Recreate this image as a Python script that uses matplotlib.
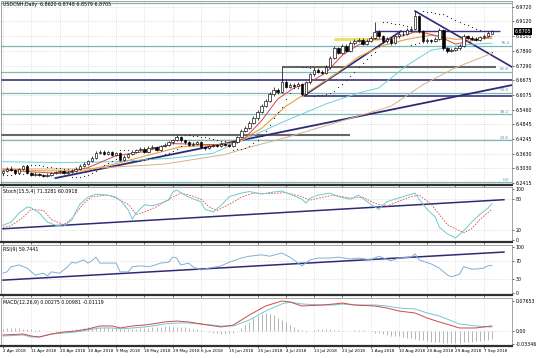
import numpy as np
import matplotlib
matplotlib.use("Agg")
import matplotlib.pyplot as plt
import matplotlib.transforms as mtransforms

# USDCNH daily candles, 2 Apr 2018 .. 11 Sep 2018 (bar index = trading day)
opens = [6.282, 6.290, 6.300, 6.295, 6.285, 6.300, 6.312, 6.282, 6.276, 6.280,
         6.274, 6.270, 6.276, 6.282, 6.287, 6.292, 6.281, 6.287, 6.293, 6.301,
         6.314, 6.322, 6.332, 6.345, 6.368, 6.372, 6.362, 6.370, 6.358, 6.366,
         6.338, 6.350, 6.362, 6.372, 6.378, 6.384, 6.372, 6.388, 6.392, 6.380,
         6.396, 6.401, 6.410, 6.420, 6.432, 6.418, 6.410, 6.400, 6.404, 6.410,
         6.392, 6.385, 6.394, 6.400, 6.395, 6.405, 6.400, 6.396, 6.410, 6.432,
         6.458, 6.470, 6.492, 6.510, 6.538, 6.560, 6.582, 6.610, 6.628, 6.620,
         6.662, 6.642, 6.650, 6.645, 6.652, 6.612, 6.660, 6.692, 6.712, 6.704,
         6.700, 6.722, 6.762, 6.800, 6.782, 6.812, 6.790, 6.822, 6.830, 6.836,
         6.820, 6.830, 6.842, 6.870, 6.850, 6.830, 6.840, 6.822, 6.850, 6.862,
         6.860, 6.875, 6.882, 6.935, 6.872, 6.830, 6.835, 6.830, 6.840, 6.876,
         6.800, 6.790, 6.795, 6.800, 6.812, 6.850, 6.845, 6.840, 6.836, 6.846,
         6.852, 6.862]
highs = [6.296, 6.306, 6.310, 6.299, 6.305, 6.318, 6.316, 6.287, 6.286, 6.284,
         6.279, 6.281, 6.287, 6.292, 6.297, 6.296, 6.292, 6.299, 6.306, 6.319,
         6.328, 6.338, 6.352, 6.375, 6.380, 6.378, 6.376, 6.374, 6.372, 6.370,
         6.356, 6.367, 6.378, 6.384, 6.390, 6.389, 6.394, 6.398, 6.396, 6.401,
         6.407, 6.416, 6.426, 6.440, 6.436, 6.422, 6.414, 6.410, 6.416, 6.414,
         6.397, 6.399, 6.405, 6.404, 6.410, 6.409, 6.404, 6.416, 6.438, 6.465,
         6.478, 6.500, 6.518, 6.546, 6.568, 6.592, 6.620, 6.640, 6.636, 6.725,
         6.670, 6.657, 6.656, 6.660, 6.656, 6.666, 6.700, 6.722, 6.718, 6.712,
         6.730, 6.770, 6.812, 6.808, 6.820, 6.818, 6.830, 6.838, 6.845, 6.842,
         6.838, 6.850, 6.910, 6.878, 6.856, 6.848, 6.846, 6.856, 6.870, 6.872,
         6.884, 6.892, 6.955, 6.940, 6.878, 6.842, 6.840, 6.846, 6.884, 6.882,
         6.806, 6.802, 6.808, 6.818, 6.858, 6.856, 6.850, 6.846, 6.852, 6.858,
         6.874, 6.8748]
lows = [6.276, 6.286, 6.290, 6.280, 6.281, 6.296, 6.279, 6.270, 6.272, 6.270,
        6.265, 6.266, 6.272, 6.278, 6.283, 6.277, 6.277, 6.283, 6.289, 6.297,
        6.309, 6.317, 6.327, 6.340, 6.360, 6.356, 6.357, 6.352, 6.353, 6.332,
        6.333, 6.345, 6.357, 6.367, 6.373, 6.367, 6.368, 6.383, 6.375, 6.376,
        6.391, 6.396, 6.405, 6.415, 6.412, 6.404, 6.395, 6.395, 6.399, 6.386,
        6.380, 6.381, 6.389, 6.390, 6.391, 6.395, 6.391, 6.392, 6.406, 6.428,
        6.452, 6.465, 6.486, 6.505, 6.532, 6.555, 6.576, 6.602, 6.612, 6.615,
        6.636, 6.636, 6.638, 6.640, 6.604, 6.608, 6.654, 6.686, 6.698, 6.694,
        6.695, 6.716, 6.755, 6.775, 6.776, 6.784, 6.785, 6.815, 6.825, 6.814,
        6.815, 6.825, 6.838, 6.844, 6.824, 6.824, 6.815, 6.818, 6.845, 6.852,
        6.855, 6.868, 6.878, 6.866, 6.822, 6.824, 6.824, 6.826, 6.836, 6.795,
        6.783, 6.785, 6.790, 6.795, 6.808, 6.838, 6.834, 6.830, 6.830, 6.840,
        6.846, 6.8579]
closes = [6.290, 6.300, 6.295, 6.285, 6.300, 6.312, 6.282, 6.276, 6.280, 6.274,
          6.270, 6.276, 6.282, 6.287, 6.292, 6.281, 6.287, 6.293, 6.301, 6.314,
          6.322, 6.332, 6.345, 6.368, 6.372, 6.362, 6.370, 6.358, 6.366, 6.338,
          6.350, 6.362, 6.372, 6.378, 6.384, 6.372, 6.388, 6.392, 6.380, 6.396,
          6.401, 6.410, 6.420, 6.432, 6.418, 6.410, 6.400, 6.404, 6.410, 6.392,
          6.385, 6.394, 6.400, 6.395, 6.405, 6.400, 6.396, 6.410, 6.432, 6.458,
          6.470, 6.492, 6.510, 6.538, 6.560, 6.582, 6.610, 6.628, 6.620, 6.662,
          6.642, 6.650, 6.645, 6.652, 6.612, 6.660, 6.692, 6.712, 6.704, 6.700,
          6.722, 6.762, 6.800, 6.782, 6.812, 6.790, 6.822, 6.830, 6.836, 6.820,
          6.830, 6.842, 6.870, 6.850, 6.830, 6.840, 6.822, 6.850, 6.862, 6.860,
          6.875, 6.882, 6.935, 6.872, 6.830, 6.835, 6.830, 6.840, 6.876, 6.800,
          6.790, 6.795, 6.800, 6.812, 6.850, 6.845, 6.840, 6.836, 6.846, 6.852,
          6.866, 6.8705]

date_labels = ["2 Apr 2018", "11 Apr 2018", "20 Apr 2018", "30 Apr 2018", "9 May 2018",
               "18 May 2018", "29 May 2018", "6 Jun 2018", "15 Jun 2018", "25 Jun 2018",
               "4 Jul 2018", "13 Jul 2018", "23 Jul 2018", "1 Aug 2018", "10 Aug 2018",
               "20 Aug 2018", "29 Aug 2018", "7 Sep 2018"]
price_ticks = [6.9720, 6.9120, 6.8505, 6.7890, 6.7290, 6.6675, 6.6075,
               6.5460, 6.4845, 6.4245, 6.3630, 6.3030, 6.2415]

# moving averages (sparse vertices)
ma_fast_x = [0, 7, 14, 21, 28, 35, 42, 49, 56, 60, 64, 68, 72, 76, 80, 84, 88, 92, 96, 100, 102, 104, 108, 112, 116, 121]
ma_fast = [6.295, 6.288, 6.281, 6.305, 6.355, 6.372, 6.405, 6.402, 6.399, 6.430, 6.500, 6.590, 6.636, 6.660,
           6.700, 6.772, 6.815, 6.838, 6.840, 6.858, 6.868, 6.866, 6.850, 6.818, 6.832, 6.850]
ma_mid_x = [0, 10, 20, 28, 36, 44, 52, 58, 64, 70, 76, 82, 88, 94, 100, 106, 112, 121]
ma_mid = [6.300, 6.292, 6.292, 6.322, 6.357, 6.392, 6.398, 6.410, 6.468, 6.560, 6.625, 6.690, 6.765,
          6.812, 6.838, 6.855, 6.838, 6.842]
ma_cyan_x = [0, 14, 28, 42, 52, 61, 70, 80, 88, 93, 100, 106, 114, 121]
ma_cyan = [6.330, 6.326, 6.330, 6.345, 6.365, 6.432, 6.500, 6.570, 6.615, 6.636, 6.730, 6.793, 6.815, 6.822]
ma_tan_x = [0, 20, 40, 55, 61, 70, 80, 90, 96, 104, 112, 121]
ma_tan = [6.300, 6.300, 6.320, 6.360, 6.390, 6.430, 6.480, 6.530, 6.560, 6.650, 6.720, 6.780]

# Fibonacci retracement (0 -> 100)
fib_low, fib_high = 6.2440, 6.9870
fib_levels = [0.0, 23.6, 38.2, 50.0, 61.8, 76.4, 100.0]

# stochastic (15,5,4)
sto_x = [0, 2, 4, 6, 7, 9, 11, 13, 15, 17, 19, 21, 23, 26, 28, 29, 31, 32, 33, 35, 37, 39, 41, 42, 43, 45,
         46, 49, 50, 52, 54, 56, 59, 61, 64, 66, 69, 71, 74, 75, 76, 78, 81, 83, 86, 88, 91, 93, 95, 97,
         99, 102, 103, 105, 107, 108, 110, 112, 114, 116, 118, 120, 121]
sto_main = [29, 35, 53, 65, 63, 53, 35, 29, 27, 39, 70, 84, 90, 88, 84, 78, 59, 41, 53, 69, 67, 72, 78, 94,
            98, 88, 84, 75, 60, 55, 68, 85, 92, 95, 90, 93, 96, 90, 80, 72, 82, 88, 92, 85, 80, 88, 70, 60,
            75, 80, 85, 92, 80, 60, 45, 25, 12, 4, 18, 35, 50, 62, 71]
sig_x = [0, 2, 5, 7, 10, 12, 15, 17, 20, 22, 26, 28, 31, 33, 36, 38, 41, 44, 47, 49, 51, 53, 56, 59, 62,
         66, 70, 74, 76, 78, 82, 86, 89, 92, 95, 98, 101, 103, 106, 108, 110, 114, 116, 118, 121]
sto_signal = [25, 28, 45, 60, 58, 40, 30, 42, 72, 85, 88, 82, 70, 50, 58, 65, 80, 92, 86, 80, 65, 58, 70,
              84, 92, 91, 93, 85, 78, 82, 88, 82, 84, 72, 66, 76, 85, 88, 70, 50, 30, 14, 22, 40, 60]
sto_trend = ([0, 124], [22, 79])

# RSI(9)
rsi_x = [0, 1, 2, 4, 6, 7, 8, 10, 11, 12, 14, 16, 17, 18, 20, 21, 22, 23, 24, 26, 28, 29, 31, 32, 34, 36,
         37, 39, 41, 42, 43, 44, 46, 47, 49, 51, 54, 56, 59, 61, 64, 66, 69, 71, 74, 76, 78, 81, 83, 86,
         88, 91, 93, 96, 98, 101, 102, 103, 106, 108, 110, 111, 113, 114, 116, 117, 119, 120, 121]
rsi = [43, 46, 57, 61, 54, 46, 39, 43, 37, 46, 43, 57, 67, 65, 72, 65, 70, 78, 65, 65, 65, 46, 46, 57, 59,
       57, 59, 65, 67, 78, 76, 61, 65, 57, 50, 54, 59, 67, 76, 80, 83, 80, 87, 78, 59, 72, 76, 76, 78, 74,
       76, 72, 80, 70, 76, 78, 85, 72, 63, 54, 39, 35, 41, 57, 52, 52, 54, 59, 60]
rsi_trend = ([0, 124], [28, 89])

# MACD(12,26,9)
macd_x = [0, 5, 7, 9, 12, 15, 18, 21, 24, 27, 29, 32, 35, 37, 40, 43, 46, 49, 54, 57, 61, 65, 69, 71, 74,
          79, 82, 84, 87, 92, 95, 98, 102, 105, 108, 113, 117, 121]
macd_main = [-0.0128, -0.0102, -0.0153, -0.0153, -0.0077, -0.0051, -0.0026, 0.0026, 0.0077, 0.0077,
             0.0051, 0.0077, 0.0102, 0.0128, 0.0179, 0.0204, 0.0204, 0.0179, 0.0128, 0.0128, 0.0281,
             0.0510, 0.0689, 0.0740, 0.0689, 0.0663, 0.0663, 0.0689, 0.0663, 0.0663, 0.0638, 0.0587,
             0.0561, 0.0459, 0.0383, 0.0179, 0.0128, 0.0102]
macd_signal = [-0.0102, -0.0077, -0.0128, -0.0153, -0.0077, -0.0026, 0.0000, 0.0051, 0.0128, 0.0128,
               0.0077, 0.0128, 0.0153, 0.0179, 0.0230, 0.0255, 0.0230, 0.0179, 0.0102, 0.0153, 0.0408,
               0.0638, 0.0765, 0.0740, 0.0638, 0.0663, 0.0689, 0.0714, 0.0663, 0.0638, 0.0587, 0.0510,
               0.0459, 0.0330, 0.0230, 0.0077, 0.0077, 0.0128]
macd_hist = [6, 7, 8, 8, 7, 6, 5, 4, 3, 2,
             1, 0, -1, -2, -2, -1, 0,
             2, 4, 6, 8, 9, 10, 10, 9, 9,
             8, 8, 7, 5, 4, 4, 5, 6, 7,
             8, 8, 9, 10, 11, 12, 12, 11, 11,
             10, 9, 8, 6, 4,
             2, 0, -2, -4, -6, -7, -7, -6, -4,
             0, 8, 16, 24, 32, 38, 44, 46,
             44, 40, 34, 28, 22, 16, 10, 6, 2,
             -2, -1, 2, 4, 6, 5, 4, 3, 2, 1, 0, 1, 2, 3, 2, 1, 0,
             -4, -6, -8, -10, -12, -13, -14, -15, -17, -18, -20, -22, -24, -26, -27, -28, -29, -30, -31, -31,
             -30, -30, -29, -28, -27, -26, -25, -24, -22, -20]


def parabolic_sar(high, low, step=0.02, max_step=0.2):
    sar = np.zeros(len(high))
    up = True
    af = step
    ep = high[0]
    sar[0] = low[0]
    for i in range(1, len(high)):
        s = sar[i - 1] + af * (ep - sar[i - 1])
        if up:
            s = min(s, low[i - 1], low[max(i - 2, 0)])
            if low[i] < s:
                up, s, ep, af = False, ep, low[i], step
            elif high[i] > ep:
                ep, af = high[i], min(af + step, max_step)
        else:
            s = max(s, high[i - 1], high[max(i - 2, 0)])
            if high[i] > s:
                up, s, ep, af = True, ep, high[i], step
            elif low[i] < ep:
                ep, af = low[i], min(af + step, max_step)
        sar[i] = s
    return sar


W, H = 536, 358
px = 4.04          # pixels per bar
x0 = 3             # pixel of bar 0
fs = 3.4
grid_kw = dict(color="#c8c8c8", linestyle=(0, (1, 2)), linewidth=0.5)

fig = plt.figure(figsize=(W / 100, H / 100), dpi=100)
fig.patch.set_facecolor("white")


def panel(top, bottom):
    return fig.add_axes([1 / W, 1 - bottom / H, 511 / W, (bottom - top) / H])


def px_to_val(y_pix, y_ref_pix, v_ref, per_px):
    return v_ref - (y_pix - y_ref_pix) * per_px


ax = panel(1, 185)
sto = panel(187, 242)
rsi_ax = panel(245, 295)
mac = panel(298, 346)

xlim = ((1 - x0) / px, (512 - x0) / px)
ticks_x = list(range(0, 7 * len(date_labels), 7))

# y limits from the pixel scales of each panel
pp_main = (6.9720 - 6.2415) / 176.0
ax.set_ylim(px_to_val(185, 7, 6.9720, pp_main), px_to_val(1, 7, 6.9720, pp_main))
sto.set_ylim(px_to_val(242, 240, 0, 100 / 51), px_to_val(187, 240, 0, 100 / 51))
rsi_ax.set_ylim(px_to_val(295, 293, 0, 100 / 46), px_to_val(245, 293, 0, 100 / 46))
mac.set_ylim(px_to_val(346, 331, 0, 1 / 392), px_to_val(298, 331, 0, 1 / 392))

for a in (ax, sto, rsi_ax, mac):
    a.set_xlim(*xlim)
    a.set_xticks(ticks_x)
    a.tick_params(axis="x", length=1.5, width=0.4, labelsize=3.0, pad=1)
    a.yaxis.tick_right()
    a.tick_params(axis="y", length=1.5, width=0.4, labelsize=fs, pad=1)
    for s in a.spines.values():
        s.set_linewidth(0.5)
        s.set_color("#808080")
    a.spines["bottom"].set_color("#303030")
    a.spines["bottom"].set_linewidth(1.6)
    for t in ticks_x:
        a.axvline(t, **grid_kw, zorder=0)
    if a is not mac:
        a.set_xticklabels([])

# ---- main price panel ----
ax.set_yticks(price_ticks)
ax.set_yticklabels([f"{v:.4f}" for v in price_ticks])
for v in price_ticks:
    ax.axhline(v, **grid_kw, zorder=0)

fib_rng = fib_high - fib_low
for lvl in fib_levels:
    v = fib_low + fib_rng * lvl / 100
    ax.axhline(v, color="#7fb6b6", lw=0.9, zorder=1)
    if lvl < 100:
        ax.text(125.3, v + 0.002, f"{lvl:.1f}", fontsize=fs - 0.4, color="#5a9a9a",
                ha="right", va="bottom")

# drawn support / resistance lines
ax.hlines(6.441, -1, 86, color="#666666", lw=1.5, zorder=2)
ax.hlines(6.669, -1, 127, color="#3a3580", lw=1.2, zorder=2)
ax.hlines(6.725, 69, 122, color="#666666", lw=1.5, zorder=2)
ax.hlines(6.604, 74.5, 127, color="#3a3580", lw=1.2, zorder=2)
ax.hlines(6.872, 92, 123, color="#3a3580", lw=1.0, zorder=2)
ax.hlines(6.839, 82, 93, color="#e8e070", lw=2.2, zorder=2)
ax.plot([13, 126], [6.262, 6.648], color="#2e2a78", lw=1.3, zorder=3)
ax.plot([74.5, 98.5], [6.604, 6.872], color="#2e2a78", lw=1.2, zorder=3)
ax.plot([102, 126], [6.955, 6.723], color="#2e2a78", lw=1.2, zorder=3)

ax.plot(ma_tan_x, ma_tan, color="#d8b08c", lw=0.7, zorder=3)
ax.plot(ma_cyan_x, ma_cyan, color="#6fd0dc", lw=0.7, zorder=3)
ax.plot(ma_mid_x, ma_mid, color="#e8a040", lw=0.8, zorder=3)
ax.plot(ma_fast_x, ma_fast, color="#d04848", lw=0.7, zorder=3)

idx = np.arange(len(closes))
o = np.array(opens)
c = np.array(closes)
h = np.array(highs)
l = np.array(lows)
ax.vlines(idx, l, h, color="black", lw=0.5, zorder=4)
up = c >= o
body = np.maximum(np.abs(c - o), 0.0015)
ax.bar(idx[up], body[up], bottom=np.minimum(o, c)[up], width=0.62, color="white",
       edgecolor="black", linewidth=0.45, zorder=5)
ax.bar(idx[~up], body[~up], bottom=np.minimum(o, c)[~up], width=0.62, color="black",
       edgecolor="black", linewidth=0.45, zorder=5)

sar = parabolic_sar(h, l)
ax.plot(idx, sar, linestyle="none", marker="o", markersize=0.9, color="#303030",
        markeredgewidth=0, zorder=4)

ax.text(0.004, 0.992, "USDCNH,Daily  6.8620 6.8748 6.8579 6.8705", transform=ax.transAxes,
        fontsize=fs, va="top", ha="left")
tr = mtransforms.blended_transform_factory(ax.transAxes, ax.transData)
ax.text(1.006, closes[-1], f"{closes[-1]:.4f}", transform=tr, fontsize=fs, color="white",
        va="center", ha="left", clip_on=False,
        bbox=dict(boxstyle="square,pad=0.15", fc="black", ec="black", lw=0))

# ---- stochastic ----
sto.set_yticks([100, 80, 20, 0])
for v in (80, 20):
    sto.axhline(v, **grid_kw, zorder=0)
sto.plot(*sto_trend, color="#2e2a78", lw=1.1, zorder=2)
sto.plot(sig_x, sto_signal, color="#e05050", lw=0.6, linestyle=(0, (2, 1.5)), zorder=3)
sto.plot(sto_x, sto_main, color="#70c8d0", lw=0.7, zorder=3)
sto.text(0.004, 0.96, "Stoch(15,5,4) 71.3281 60.0918", transform=sto.transAxes, fontsize=fs,
         va="top", ha="left")

# ---- RSI ----
rsi_ax.set_yticks([100, 70, 30, 0])
for v in (70, 30):
    rsi_ax.axhline(v, **grid_kw, zorder=0)
rsi_ax.plot(*rsi_trend, color="#2e2a78", lw=1.1, zorder=2)
rsi_ax.plot(rsi_x, rsi, color="#7fb0d8", lw=0.7, zorder=3)
rsi_ax.text(0.004, 0.96, "RSI(9) 59.7441", transform=rsi_ax.transAxes, fontsize=fs,
            va="top", ha="left")

# ---- MACD ----
mac.set_yticks([0.07653, 0.0, -0.03346])
mac.set_yticklabels(["0.07653", "0.00", "-0.03346"])
mac.axhline(0, **grid_kw, zorder=0)
mac.vlines(idx, 0, np.array(macd_hist) / 1000.0, color="#a8a8a8", lw=0.6, zorder=2)
mac.plot(macd_x, macd_main, color="#70c8d0", lw=0.7, zorder=3)
mac.plot(macd_x, macd_signal, color="#d04848", lw=0.7, zorder=3)
mac.text(0.004, 0.96, "MACD(12,26,9) 0.00275 0.00981 -0.01119", transform=mac.transAxes,
         fontsize=fs, va="top", ha="left")
mac.set_xticklabels(date_labels, ha="left")

fig.savefig("out.png", dpi=100, facecolor="white")
